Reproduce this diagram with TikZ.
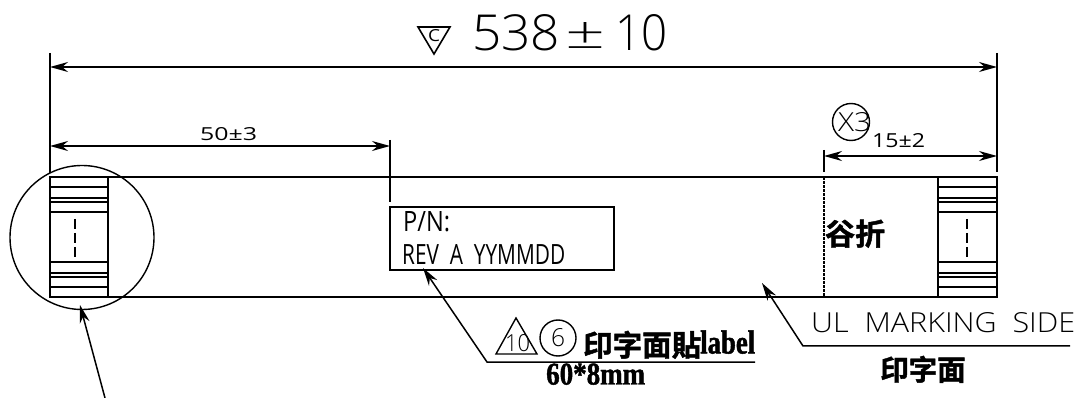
\documentclass[tikz,border=0pt]{standalone}
\usepackage{fontspec}
\usetikzlibrary{arrows.meta}
\newfontfamily\cadfont{Open Sans Light}
\newfontfamily\smallfont{Open Sans}
\newfontfamily\cjk[FakeBold=1.5]{Noto Sans CJK TC Bold}
\newfontfamily\serifbold[FakeBold=1.5]{Liberation Serif Bold}
\newcommand{\cadtext}[3]{\resizebox{#1pt}{#2pt}{\cadfont #3}}
\newcommand{\smalltext}[3]{\resizebox{#1pt}{#2pt}{\smallfont #3}}
\newcommand{\cjktext}[2]{\fontsize{#1}{#1}\selectfont\cjk #2}
\newcommand{\boldtext}[3]{\resizebox{#1pt}{#2pt}{\serifbold #3}}
\tikzset{
  txt/.style={inner sep=0pt,anchor=south west},
  part/.style={line width=1.7pt},
  thinline/.style={line width=1.4pt},
  leader/.style={line width=1.5pt,-{Stealth[length=18pt,width=10pt]}},
  dimline/.style={line width=1.6pt,{Stealth[length=18pt,width=10pt]}-{Stealth[length=18pt,width=10pt]}}
}
\begin{document}
\begin{tikzpicture}[x=1pt,y=-1pt]
\useasboundingbox (0,0) rectangle (1080,398);
\draw [thinline] (50,53) -- (50,173);
\draw [thinline] (997,53) -- (997,172);
\draw [dimline] (50,67) -- (997,67);
\draw [dimline] (50,146) -- (390,146);
\draw [thinline] (390,140) -- (390,202);
\draw [dimline] (824,156) -- (997,156);
\draw [thinline] (824,150) -- (824,172);
\draw [part] (50,177) rectangle (997,297);
\draw [thinline] (108,177) -- (108,297);
\draw [thinline] (938,177) -- (938,297);
\draw [line width=1.5pt, dash pattern=on 3pt off 1pt] (824,177) -- (824,297);
\foreach \y/\w in {187/1.8,198/1.2,202/1.2,212/1.8,262/1.2,273/1.2,277/1.2,287/1.2}{
  \draw [line width=\w pt] (50,\y) -- (108,\y);
  \draw [line width=\w pt] (938,\y) -- (997,\y);
}
\draw [thinline] (75,219) -- (75,229) (75,233) -- (75,243) (75,247) -- (75,257);
\draw [thinline] (967,219) -- (967,229) (967,233) -- (967,243) (967,247) -- (967,257);
\node (detail) [draw,circle,thinline,minimum size=144pt,inner sep=0pt] at (82,237.5) {};
\coordinate (detailtail) at (105,398);
\draw [leader] (detailtail) -- (80,305);
\node (labelbox) [draw,part,minimum width=224pt,minimum height=63pt,inner sep=0pt] at (502,238.5) {};
\node (pn) [txt] at (403,232) {\smalltext{47}{20}{P/N:}};
\node (rev) [txt] at (402,265) {\smalltext{163}{20}{REV\ \ A\ \ YYMMDD}};
\node (total) [txt] at (472,51) {\cadtext{88}{36}{538}};
\node (total pm) [txt] at (565,49) {\cadtext{40}{26}{±}};
\node (total ten) [txt] at (615,51) {\cadtext{52}{36}{10}};
\draw [line width=1.6pt] (418,27) -- (450,27) -- (434,54) -- cycle;
\node (revc) [txt] at (428,42) {\smalltext{12}{12}{C}};
\node (fifty) [txt] at (200,141) {\smalltext{57}{13}{50±3}};
\node (fifteen) [txt] at (872,148) {\smalltext{53}{14}{15±2}};
\node (xthree) [draw,circle,thinline,minimum size=37pt,inner sep=0pt] at (851,122) {};
\node (xthree txt) [txt] at (838,132) {\cadtext{33}{19}{X3}};
\node (fold) [txt] at (825,248) {\cjktext{30}{谷折}};
\coordinate (uljoint) at (803,346);
\coordinate (ulend) at (1070,346);
\draw [leader] (ulend) -- (uljoint) -- (762,283);
\node (ul) [txt] at (811,333) {\cadtext{264}{20}{UL\ \ MARKING\ \ SIDE}};
\node (face) [txt] at (880,383) {\cjktext{28.5}{印字面}};
\coordinate (pnjoint) at (487,362);
\coordinate (pnend) at (755,362);
\draw [leader] (pnend) -- (pnjoint) -- (423,268);
\draw [thinline] (516,318) -- (537,354) -- (496,354) -- cycle;
\node (ten) [txt] at (505,352) {\cadtext{25}{17}{10}};
\node (six) [draw,circle,thinline,minimum size=36pt,inner sep=0pt] at (558,338) {};
\node (six txt) [txt] at (551,347) {\cadtext{14}{18}{6}};
\node (stick) [txt] at (583,359) {\cjktext{29.5}{印字面貼}};
\node (sticklabel) [txt] at (700,354) {\boldtext{55}{23}{label}};
\node (size) [txt] at (546,385) {\boldtext{99}{21}{60*8mm}};
\end{tikzpicture}
\end{document}
